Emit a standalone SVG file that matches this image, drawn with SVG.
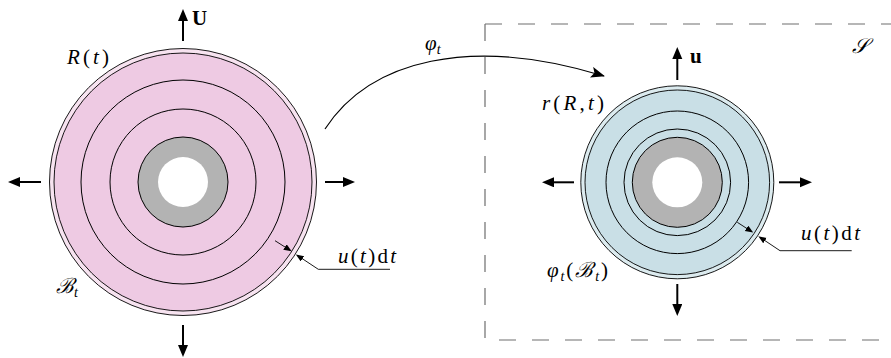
<svg xmlns="http://www.w3.org/2000/svg" width="891" height="358" viewBox="0 0 891 358">
<style>
.lbl{font-family:"Liberation Serif","DejaVu Serif",serif;font-size:21px;fill:#000}
.it{font-style:italic}
.bf{font-weight:bold}
.sub{font-size:14px}
.ring{fill:none;stroke:#000;stroke-width:1}
.thick{stroke:#000;stroke-width:2;fill:none}
.thin{stroke:#000;stroke-width:0.9;fill:none}
</style>
<defs>
<marker id="big" markerUnits="userSpaceOnUse" markerWidth="14" markerHeight="12" refX="4" refY="5" orient="auto">
<path d="M0,0 L12,5 L0,10 z" fill="#000"/>
</marker>
<marker id="small" markerUnits="userSpaceOnUse" markerWidth="9" markerHeight="8" refX="6" refY="3.2" orient="auto">
<path d="M0,0 L8,3.2 L0,6.4 z" fill="#000"/>
</marker>
<marker id="curveHead" markerUnits="userSpaceOnUse" markerWidth="16" markerHeight="13" refX="13" refY="5.5" orient="auto">
<path d="M0,0 L14,5.5 L0,11 L3,5.5 z" fill="#000"/>
</marker>
</defs>
<rect width="891" height="358" fill="#fff"/>

<g id="frame-S">
<path d="M485,24 H891 M485,24 V340 H891" fill="none" stroke="#6e6e6e" stroke-width="1.2" stroke-dasharray="17 16"/>
<text class="lbl it" x="852" y="53">𝒮</text>
</g>

<g id="body-left">
<circle cx="183" cy="182" r="133.5" fill="#f7e3f0" stroke="#000" stroke-width="0.9"/>
<circle cx="183" cy="182" r="129" fill="#eecae3" stroke="#000" stroke-width="0.9"/>
<circle class="ring" cx="183" cy="182" r="102"/>
<circle class="ring" cx="183" cy="182" r="73"/>
<circle cx="183" cy="182" r="45" fill="#b3b3b3" stroke="#000" stroke-width="1"/>
<circle cx="183" cy="182" r="25" fill="#fff"/>
<path class="thick" d="M183,41 V17" marker-end="url(#big)"/>
<path class="thick" d="M41,182 H16" marker-end="url(#big)"/>
<path class="thick" d="M325,182 H347" marker-end="url(#big)"/>
<path class="thick" d="M183,325 V349" marker-end="url(#big)"/>
<path class="thin" d="M275,240.7 L290,250.2" marker-end="url(#small)"/>
<path class="thin" d="M390,269.3 H318.3 L297.5,255.5" marker-end="url(#small)"/>
<text class="lbl bf" x="192" y="25">U</text>
<text class="lbl" x="67" y="64" textLength="42" lengthAdjust="spacing"><tspan class="it">R</tspan>(<tspan class="it">t</tspan>)</text>
<text class="lbl" x="56" y="293"><tspan class="it">ℬ</tspan><tspan class="sub it" dy="4">t</tspan></text>
<text class="lbl" x="338" y="263" textLength="58" lengthAdjust="spacing"><tspan class="it">u</tspan>(<tspan class="it">t</tspan>)d<tspan class="it">t</tspan></text>
</g>

<g id="body-right">
<circle cx="677.3" cy="182.3" r="96.5" fill="#dcebef" stroke="#000" stroke-width="0.9"/>
<circle cx="677.3" cy="182.3" r="92.3" fill="#c9dfe6" stroke="#000" stroke-width="0.9"/>
<circle class="ring" cx="677.3" cy="182.3" r="71.3"/>
<circle class="ring" cx="677.3" cy="182.3" r="53.3"/>
<circle cx="677.3" cy="182.3" r="45" fill="#b3b3b3" stroke="#000" stroke-width="1"/>
<circle cx="677.3" cy="182.3" r="25" fill="#fff"/>
<path class="thick" d="M677.3,80 V55" marker-end="url(#big)"/>
<path class="thick" d="M574,182.3 H550" marker-end="url(#big)"/>
<path class="thick" d="M779,182.3 H804" marker-end="url(#big)"/>
<path class="thick" d="M677.3,284 V308" marker-end="url(#big)"/>
<path class="thin" d="M737.3,222.3 L751.5,231.5" marker-end="url(#small)"/>
<path class="thin" d="M851.7,250.7 H780 L760,237.3" marker-end="url(#small)"/>
<text class="lbl bf" x="690" y="63">u</text>
<text class="lbl" x="542" y="110" textLength="62" lengthAdjust="spacing"><tspan class="it">r</tspan>(<tspan class="it">R</tspan>,<tspan class="it">t</tspan>)</text>
<text class="lbl" x="547" y="277" textLength="61" lengthAdjust="spacing"><tspan class="it">φ</tspan><tspan class="sub it" dy="4">t</tspan><tspan dy="-4">(</tspan><tspan class="it">ℬ</tspan><tspan class="sub it" dy="4">t</tspan><tspan dy="-4">)</tspan></text>
<text class="lbl" x="801" y="240" textLength="59" lengthAdjust="spacing"><tspan class="it">u</tspan>(<tspan class="it">t</tspan>)d<tspan class="it">t</tspan></text>
</g>

<g id="connectors">
<path d="M325,129 C370,60 470,35 604,76" fill="none" stroke="#000" stroke-width="1.2" marker-end="url(#curveHead)"/>
<text class="lbl" x="425" y="50"><tspan class="it">φ</tspan><tspan class="sub it" dy="4">t</tspan></text>
</g>
</svg>
